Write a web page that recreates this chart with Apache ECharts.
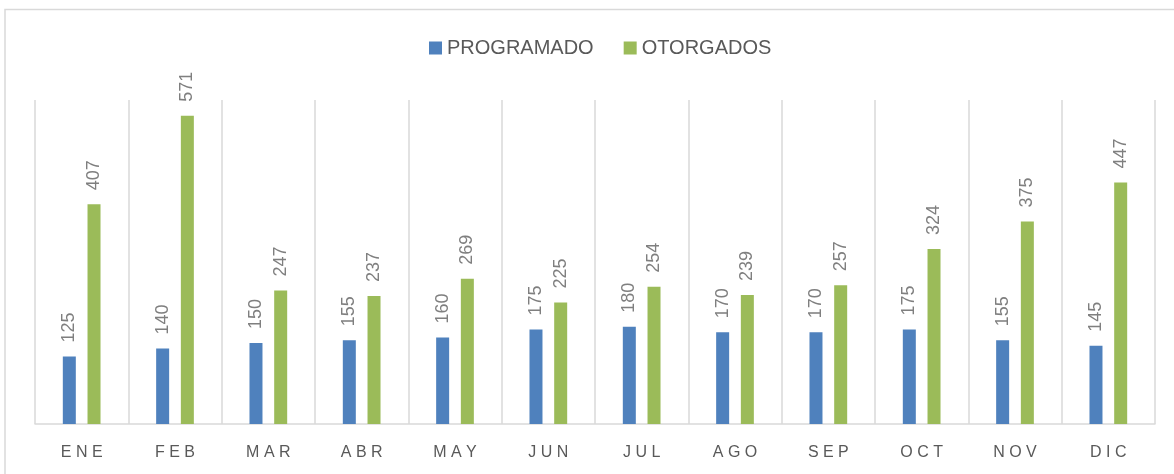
<!DOCTYPE html>
<html>
<head>
<meta charset="utf-8">
<script src="https://cdn.jsdelivr.net/npm/echarts@6/dist/echarts.min.js"></script>
<style>
  html, body { margin: 0; padding: 0; background: #fff; }
  #chart { width: 1174px; height: 474px; }
</style>
</head>
<body>
<div id="chart"></div>
<script>
const months = ['ENE', 'FEB', 'MAR', 'ABR', 'MAY', 'JUN', 'JUL', 'AGO', 'SEP', 'OCT', 'NOV', 'DIC']
const programado = [125, 140, 150, 155, 160, 175, 180, 170, 170, 175, 155, 145]
const otorgados = [407, 571, 247, 237, 269, 225, 254, 239, 257, 324, 375, 447]

const chartDom = document.getElementById('chart')
const myChart = echarts.init(chartDom)

// etiquetas verticales encima de cada barra
const barLabel = {
  show: true,
  position: 'top',
  rotate: 90,
  align: 'left',
  verticalAlign: 'middle',
  distance: 14,
  color: '#7f7f7f',
  fontSize: 18,
  fontFamily: 'Liberation Sans, Arial, sans-serif'
}

const option = {
  animation: false,
  textStyle: { fontFamily: 'Liberation Sans, Arial, sans-serif' },
  graphic: [
    {
      type: 'rect',
      shape: { x: 5, y: 9.5, width: 1200, height: 500 },
      style: { fill: 'none', stroke: '#d9d9d9', lineWidth: 1.5 }
    }
  ],
  legend: {
    data: ['PROGRAMADO', 'OTORGADOS'],
    left: 424,
    top: 33,
    itemWidth: 13,
    itemHeight: 13,
    itemGap: 30,
    icon: 'rect',
    textStyle: { color: '#595959', fontSize: 20 }
  },
  grid: {
    left: 35,
    right: 19,
    top: 100,
    bottom: 50,
    containLabel: false
  },
  xAxis: {
    type: 'category',
    data: months,
    axisLine: { lineStyle: { color: '#d9d9d9', width: 1.5 } },
    axisTick: { show: false },
    splitLine: { show: true, lineStyle: { color: '#d9d9d9', width: 1.5 } },
    axisLabel: {
      color: '#595959',
      fontSize: 16,
      margin: 21,
      formatter: (v) => v.split('').join(' ')
    }
  },
  yAxis: {
    type: 'value',
    min: 0,
    max: 600,
    show: false,
    splitLine: { show: false }
  },
  series: [
    {
      name: 'PROGRAMADO',
      type: 'bar',
      data: programado,
      barWidth: 13,
      barGap: '90%',
      itemStyle: { color: '#4f81bd' },
      label: barLabel
    },
    {
      name: 'OTORGADOS',
      type: 'bar',
      data: otorgados,
      barWidth: 13,
      itemStyle: { color: '#9bbb59' },
      label: barLabel
    }
  ]
}

option && myChart.setOption(option)
</script>
</body>
</html>
